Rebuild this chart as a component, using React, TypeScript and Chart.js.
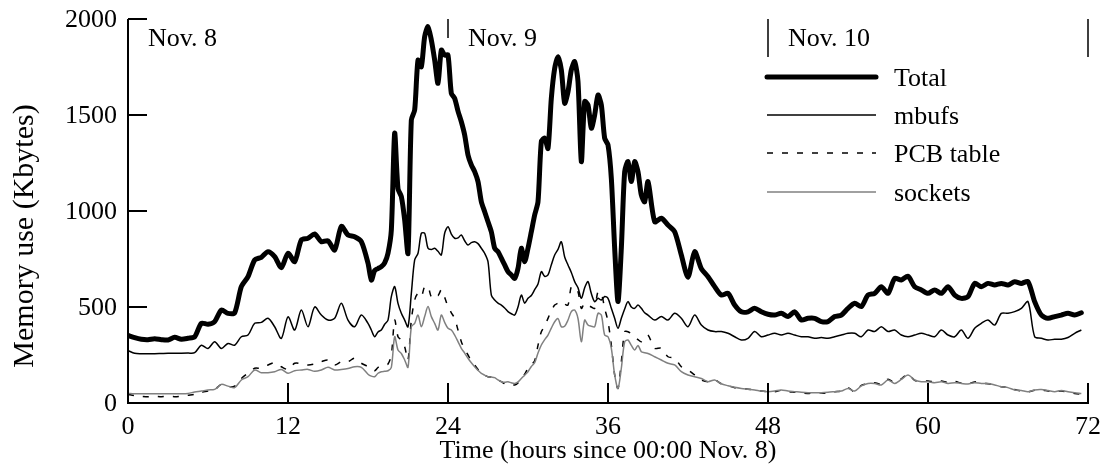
import React, { useEffect, useRef } from "react";
import { Chart, registerables } from "chart.js";

Chart.register(...registerables);

// ---------- data (hours since 00:00 Nov. 8, memory in Kbytes) ----------
const hours = [
  0, 0.5, 1, 1.5, 2, 2.5, 3, 3.5, 4, 4.5, 5, 5.5, 6, 6.5, 7, 7.5, 8, 8.5, 9, 9.5,
  10, 10.5, 11, 11.5, 12, 12.5, 13, 13.5, 14, 14.5, 15, 15.5, 16, 16.5, 17, 17.5, 18,
  18.25, 18.5, 18.75, 19, 19.25, 19.5, 19.75, 20, 20.25, 20.5,
  20.75, 21, 21.25, 21.5, 21.75, 22, 22.25, 22.5, 22.75, 23,
  23.25, 23.5, 23.75, 24, 24.25, 24.5, 24.75, 25, 25.25, 25.5,
  25.75, 26, 26.25, 26.5, 26.75, 27, 27.25, 27.5, 27.75, 28,
  28.25, 28.5, 28.75, 29, 29.25, 29.5, 29.75, 30, 30.25, 30.5,
  30.75, 31, 31.25, 31.5, 31.75, 32, 32.25, 32.5, 32.75, 33,
  33.25, 33.5, 33.75, 34, 34.25, 34.5, 34.75, 35, 35.25, 35.5,
  35.75, 36, 36.25, 36.5, 36.75, 37, 37.25, 37.5, 37.75, 38,
  38.25, 38.5, 38.75, 39,
  39.5, 40, 40.5, 41, 41.5, 42, 42.5, 43, 43.5, 44,
  44.5, 45, 45.5, 46, 46.5, 47, 47.5, 48, 48.5, 49,
  49.5, 50, 50.5, 51, 51.5, 52, 52.5, 53, 53.5, 54,
  54.5, 55, 55.5, 56, 56.5, 57, 57.5, 58, 58.5, 59,
  59.5, 60, 60.5, 61, 61.5, 62, 62.5, 63, 63.5, 64,
  64.5, 65, 65.5, 66, 66.5, 67, 67.5, 68, 68.5, 69,
  69.5, 70, 70.5, 71, 71.5,
];

const totalKB = [
  352, 340, 332, 330, 335, 330, 328, 342, 332, 337, 345, 415, 410, 424, 484, 467, 470, 606, 658, 745,
  759, 788, 762, 705, 780, 736, 849, 858, 880, 840, 845, 797, 920, 875, 866, 840, 728,
  640, 690, 700, 710, 730, 780, 900, 1405, 1116, 1075,
  953, 780, 1474, 1526, 1786, 1751, 1908, 1960, 1891, 1786,
  1665, 1838, 1812, 1812, 1613, 1587, 1520, 1465, 1396, 1292,
  1240, 1205, 1153, 1048, 996, 944, 892, 806, 788, 754,
  719, 684, 667, 649, 701, 806, 736, 806, 892, 979,
  1048, 1361, 1379, 1326, 1587, 1743, 1804, 1735, 1561, 1621,
  1735, 1778, 1674, 1257, 1570, 1553, 1431, 1500, 1604, 1553,
  1379, 1344, 1170, 806, 528, 806, 1205, 1257, 1153, 1257,
  1205, 1083, 1048, 1153,
  944, 962, 927, 892, 771, 655, 788, 700, 658, 606,
  562, 571, 510, 475, 475, 493, 475, 462, 458, 467,
  450, 475, 432, 441, 441, 424, 424, 450, 458, 493,
  520, 502, 562, 571, 606, 571, 649, 641, 660, 606,
  589, 571, 589, 571, 606, 562, 545, 554, 623, 606,
  623, 615, 623, 615, 632, 623, 632, 528, 458, 441,
  450, 458, 467, 458, 470,
];

const mbufsKB = [
  273, 259, 257, 257, 257, 258, 259, 259, 259, 260, 262, 301, 284, 319, 284, 310, 301, 345, 354, 415,
  420, 441, 397, 337, 449, 380, 484, 397, 500, 458, 432, 441, 519, 432, 397, 458, 415,
  380, 345, 370, 380, 410, 432, 554, 606, 519, 467,
  432, 397, 571, 745, 780, 884, 884, 806, 800, 806,
  790, 771, 884, 918, 880, 858, 860, 875, 845, 823,
  835, 840, 830, 806, 780, 736, 562, 536, 520, 510,
  495, 476, 465, 458, 500, 562, 520, 545, 560, 590,
  620, 684, 660, 667, 720, 771, 800, 840, 760, 719,
  680, 632, 600, 545, 600, 632, 570, 528, 545, 536,
  555, 545, 493, 441, 389, 441, 490, 528, 500, 493,
  510, 493, 470, 458,
  432, 450, 432, 467, 441, 397, 458, 406, 380, 372,
  372, 363, 345, 328, 337, 372, 345, 354, 363, 354,
  363, 354, 345, 345, 337, 341, 337, 345, 354, 363,
  363, 345, 380, 372, 397, 372, 380, 354, 345, 354,
  363, 354, 345, 380, 354, 345, 380, 337, 389, 415,
  432, 406, 467, 467, 476, 493, 528, 345, 337, 328,
  332, 332, 341, 363, 380,
];

const pcbKB = [
  45, 38, 35, 33, 35, 33, 35, 33, 35, 40, 45, 55, 62, 70, 97, 85, 88, 128, 155, 181,
  181, 198, 210, 189, 175, 207, 205, 198, 203, 215, 224, 198, 215, 215, 233, 207, 189,
  175, 168, 185, 194, 198, 203, 250, 432, 345, 328,
  293, 224, 432, 536, 571, 554, 606, 606, 554, 571,
  560, 589, 550, 502, 470, 441, 380, 319, 280, 250,
  220, 198, 175, 154, 145, 137, 135, 132, 120, 111,
  100, 94, 94, 94, 105, 128, 150, 181, 200, 220,
  300, 371, 400, 441, 480, 510, 520, 528, 515, 510,
  606, 597, 580, 493, 520, 510, 500, 493, 580, 570,
  493, 424, 302, 146, 76, 215, 371, 371, 360, 345,
  330, 319, 340, 354,
  285, 285, 241, 233, 189, 172, 146, 120, 111, 120,
  100, 90, 80, 76, 72, 68, 62, 59, 58, 66,
  60, 56, 52, 50, 54, 52, 50, 58, 62, 80,
  58, 92, 100, 106, 98, 124, 106, 126, 150, 118,
  114, 115, 110, 114, 108, 112, 104, 100, 110, 104,
  100, 96, 84, 82, 70, 62, 58, 66, 68, 62,
  58, 62, 56, 50, 46,
];

const socketsKB = [
  50, 48, 48, 48, 48, 48, 48, 48, 48, 50, 57, 62, 68, 71, 97, 88, 80, 120, 137, 172,
  158, 158, 163, 175, 155, 168, 172, 175, 165, 172, 186, 172, 175, 180, 189, 186, 150,
  140, 137, 155, 163, 165, 168, 186, 345, 276, 258,
  224, 186, 397, 415, 458, 397, 450, 502, 450, 415,
  380, 458, 420, 389, 380, 354, 320, 285, 260, 233,
  210, 189, 170, 154, 145, 137, 135, 132, 120, 111,
  108, 111, 105, 102, 110, 128, 145, 163, 190, 210,
  260, 302, 330, 354, 390, 423, 440, 397, 400, 432,
  476, 484, 440, 319, 432, 406, 400, 397, 467, 458,
  354, 345, 285, 146, 76, 181, 319, 328, 300, 276,
  300, 267, 262, 258,
  241, 224, 207, 198, 163, 146, 137, 128, 111, 120,
  100, 90, 82, 76, 72, 68, 62, 59, 62, 68,
  62, 59, 56, 54, 54, 54, 56, 59, 62, 76,
  62, 89, 102, 102, 94, 120, 102, 123, 146, 120,
  111, 111, 106, 111, 102, 106, 102, 99, 106, 102,
  102, 94, 85, 80, 68, 65, 59, 68, 70, 65,
  59, 65, 59, 54, 50,
];

const seriesLabels = ["Total", "mbufs", "PCB table", "sockets"];
const xTicks = [0, 12, 24, 36, 48, 60, 72];
const yTicks = [0, 500, 1000, 1500, 2000];
const dayLabels = ["Nov. 8", "Nov. 9", "Nov. 10"];
const dayStarts = [0, 24, 48];
const dayMarkers = [24, 48, 72];
const xTitle = "Time (hours since 00:00 Nov. 8)";
const yTitle = "Memory use (Kbytes)";

const FONT = '"Liberation Serif", "Times New Roman", serif';

const paperPlugin = {
  id: "paperAxes",
  afterDatasetsDraw(chart: any) {
    const { ctx, chartArea: a, scales } = chart;
    const x = scales.x;
    const y = scales.y;
    ctx.save();
    ctx.strokeStyle = "#000";
    ctx.fillStyle = "#000";
    ctx.lineCap = "butt";
    ctx.setLineDash([]);

    // axis lines
    ctx.lineWidth = 2;
    ctx.beginPath();
    ctx.moveTo(a.left, y.getPixelForValue(yTicks[yTicks.length - 1]));
    ctx.lineTo(a.left, a.bottom);
    ctx.lineTo(x.getPixelForValue(xTicks[xTicks.length - 1]) + 1, a.bottom);
    ctx.stroke();

    // inward ticks
    ctx.beginPath();
    yTicks.forEach((v) => {
      const py = y.getPixelForValue(v);
      ctx.moveTo(a.left, py);
      ctx.lineTo(a.left + 19, py);
    });
    xTicks.forEach((v) => {
      const px = x.getPixelForValue(v);
      ctx.moveTo(px, a.bottom);
      ctx.lineTo(px, a.bottom - 20);
    });
    ctx.stroke();

    // day markers at top
    ctx.lineWidth = 1.5;
    ctx.beginPath();
    dayMarkers.forEach((v, i) => {
      const px = x.getPixelForValue(v);
      ctx.moveTo(px, a.top);
      ctx.lineTo(px, a.top + (i === 0 ? 19 : 38));
    });
    ctx.stroke();

    // tick labels
    ctx.font = `26px ${FONT}`;
    ctx.textAlign = "right";
    ctx.textBaseline = "middle";
    yTicks.forEach((v) => {
      ctx.fillText(String(v), a.left - 11, y.getPixelForValue(v) + 1);
    });
    ctx.textAlign = "center";
    ctx.textBaseline = "alphabetic";
    xTicks.forEach((v) => {
      ctx.fillText(String(v), x.getPixelForValue(v), a.bottom + 31);
    });

    // axis titles
    ctx.fillText(xTitle, (a.left + a.right) / 2, a.bottom + 55);
    ctx.save();
    ctx.font = `30px ${FONT}`;
    ctx.translate(33, 236);
    ctx.rotate(-Math.PI / 2);
    ctx.textAlign = "center";
    ctx.textBaseline = "alphabetic";
    ctx.fillText(yTitle, 0, 0);
    ctx.restore();

    // day labels
    ctx.font = `26px ${FONT}`;
    ctx.textAlign = "left";
    dayLabels.forEach((t, i) => {
      ctx.fillText(t, x.getPixelForValue(dayStarts[i]) + 20, a.top + 27);
    });

    // legend
    const lx0 = 767;
    const lx1 = 876;
    const rows = [77, 115, 153, 192];
    chart.data.datasets.forEach((ds: any, i: number) => {
      const ry = rows[i];
      ctx.strokeStyle = ds.borderColor;
      ctx.lineWidth = ds.borderWidth;
      ctx.lineCap = i === 0 ? "round" : "butt";
      ctx.setLineDash(ds.borderDash || []);
      ctx.beginPath();
      ctx.moveTo(lx0, ry);
      ctx.lineTo(lx1, ry);
      ctx.stroke();
      ctx.setLineDash([]);
      ctx.fillStyle = "#000";
      ctx.textAlign = "left";
      ctx.textBaseline = "alphabetic";
      ctx.fillText(ds.label, 894, ry + 9);
    });
    ctx.restore();
  },
};

function pts(vals: number[]) {
  return vals.map((v, i) => ({ x: hours[i], y: v }));
}

export default function App() {
  const canvasRef = useRef<HTMLCanvasElement | null>(null);

  useEffect(() => {
    if (!canvasRef.current) return;
    const chart = new Chart(canvasRef.current, {
      type: "line",
      data: {
        datasets: [
          {
            label: seriesLabels[0],
            data: pts(totalKB),
            borderColor: "#000",
            borderWidth: 5,
            borderJoinStyle: "round",
            borderCapStyle: "round",
            pointRadius: 0,
            tension: 0.25,
            order: 0,
          },
          {
            label: seriesLabels[1],
            data: pts(mbufsKB),
            borderColor: "#000",
            borderWidth: 1.5,
            pointRadius: 0,
            tension: 0.3,
            order: 1,
          },
          {
            label: seriesLabels[2],
            data: pts(pcbKB),
            borderColor: "#000",
            borderWidth: 1.5,
            borderDash: [6, 9],
            pointRadius: 0,
            tension: 0.3,
            order: 3,
          },
          {
            label: seriesLabels[3],
            data: pts(socketsKB),
            borderColor: "#808080",
            borderWidth: 1.5,
            pointRadius: 0,
            tension: 0.3,
            order: 2,
          },
        ] as any,
      },
      options: {
        responsive: false,
        devicePixelRatio: 1,
        animation: false,
        parsing: true,
        layout: { padding: { left: 128, right: 14, top: 19, bottom: 63 } },
        scales: {
          x: { type: "linear", min: 0, max: 72, display: false },
          y: { type: "linear", min: 0, max: 2000, display: false },
        },
        plugins: {
          legend: { display: false },
          tooltip: { enabled: false },
        },
        events: [],
      } as any,
      plugins: [paperPlugin],
    });
    return () => chart.destroy();
  }, []);

  return (
    <div
      style={{
        position: "fixed",
        left: 0,
        top: 0,
        width: 1102,
        height: 466,
        background: "#fff",
      }}
    >
      <canvas
        ref={canvasRef}
        width={1102}
        height={466}
        style={{ width: 1102, height: 466, display: "block" }}
      />
    </div>
  );
}
